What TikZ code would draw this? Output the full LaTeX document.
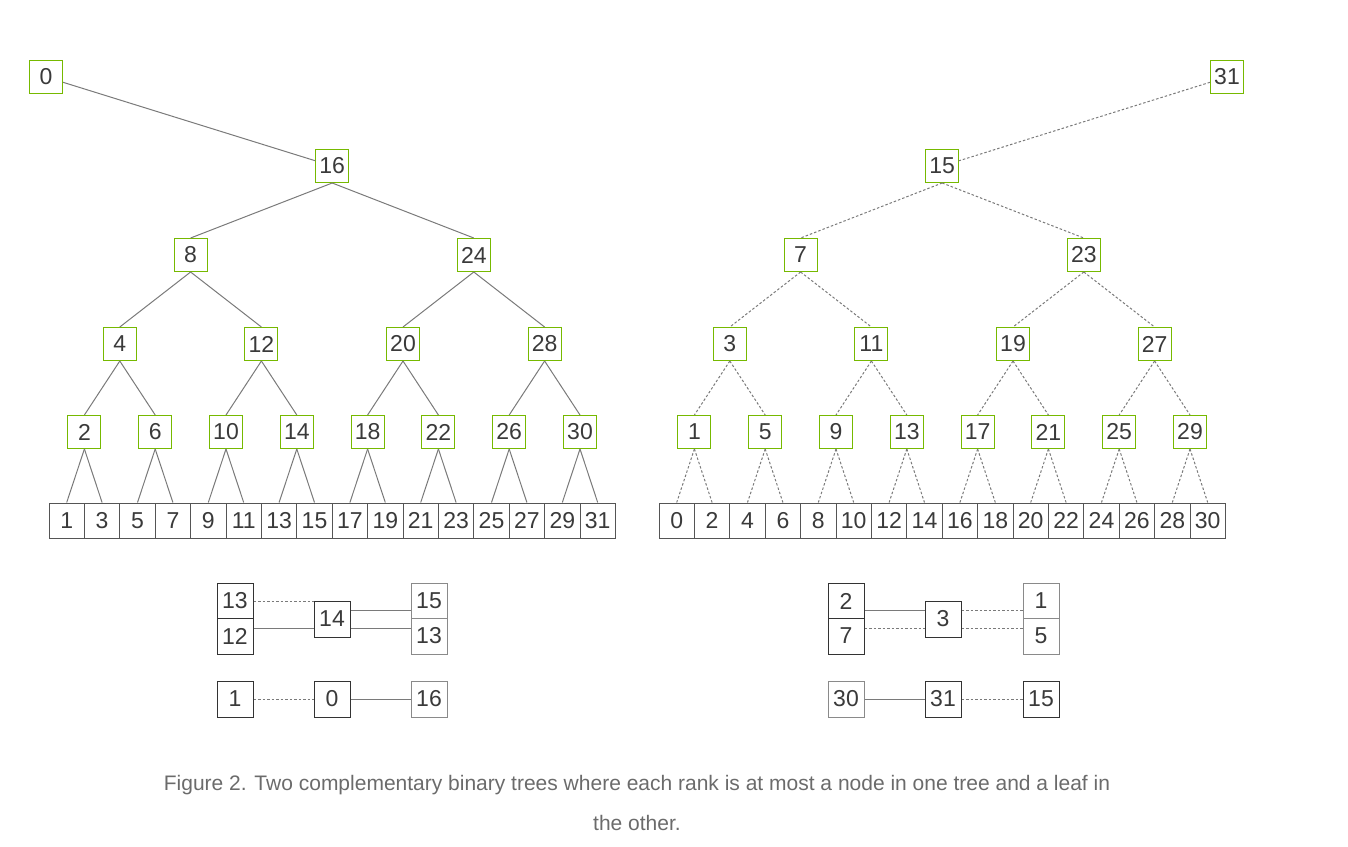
\documentclass[tikz,border=0pt]{standalone}
\usepackage{fontspec}
\setmainfont{Liberation Sans}
\begin{document}
\begin{tikzpicture}[x=1pt,y=-1pt,
  tn/.style={draw=nvg,line width=1pt,minimum width=33pt,minimum height=33pt,inner sep=0pt,text=txt,font=\fontsize{23}{26}\selectfont,fill=white},
  lf/.style={draw=leafc,line width=1pt,minimum width=35.4pt,minimum height=35pt,inner sep=0pt,text=txt,font=\fontsize{23}{26}\selectfont},
  bx/.style={line width=1pt,minimum width=36pt,minimum height=36pt,inner sep=0pt,text=txt,font=\fontsize{23}{26}\selectfont,fill=white},
  dk/.style={bx,draw=darkc},
  lt/.style={bx,draw=lightc},
  ed/.style={draw=edgec,line width=1pt},
  de/.style={draw=edgec,line width=1pt,dash pattern=on 2.5pt off 2pt}]
\definecolor{nvg}{HTML}{76B900}
\definecolor{txt}{HTML}{3A3A3A}
\definecolor{leafc}{HTML}{555555}
\definecolor{edgec}{HTML}{7A7A7A}
\definecolor{darkc}{HTML}{333333}
\definecolor{lightc}{HTML}{8A8A8A}
\definecolor{capc}{HTML}{6B6B6B}
\useasboundingbox (0,0) rectangle (1348,846);
\foreach \side/\off/\d/\sty in {L/49/0/ed,R/659/1/de}{
  % leaves
  \foreach \i in {0,...,15}{
    \pgfmathtruncatemacro{\v}{2*\i+1-\d}
    \node[lf] (\side l\i) at ({\off+35.4*(\i+0.5)},520.5) {\v};
  }
  \foreach \j in {0,...,7}{
    \pgfmathtruncatemacro{\v}{4*\j+2-\d}
    \node[tn] (\side a\j) at ({\off+35.4*(2*\j+1)},432) {\v};
    \pgfmathtruncatemacro{\p}{2*\j}\pgfmathtruncatemacro{\q}{2*\j+1}
    \draw[\sty] (\side a\j.south) -- (\side l\p.north);
    \draw[\sty] (\side a\j.south) -- (\side l\q.north);
  }
  \foreach \j in {0,...,3}{
    \pgfmathtruncatemacro{\v}{8*\j+4-\d}
    \node[tn] (\side b\j) at ({\off+35.4*(4*\j+2)},344) {\v};
    \pgfmathtruncatemacro{\p}{2*\j}\pgfmathtruncatemacro{\q}{2*\j+1}
    \draw[\sty] (\side b\j.south) -- (\side a\p.north);
    \draw[\sty] (\side b\j.south) -- (\side a\q.north);
  }
  \foreach \j in {0,1}{
    \pgfmathtruncatemacro{\v}{16*\j+8-\d}
    \node[tn] (\side c\j) at ({\off+35.4*(8*\j+4)},255) {\v};
    \pgfmathtruncatemacro{\p}{2*\j}\pgfmathtruncatemacro{\q}{2*\j+1}
    \draw[\sty] (\side c\j.south) -- (\side b\p.north);
    \draw[\sty] (\side c\j.south) -- (\side b\q.north);
  }
  \pgfmathtruncatemacro{\v}{16-\d}
  \node[tn] (\side d) at ({\off+35.4*8},166) {\v};
  \draw[\sty] (\side d.south) -- (\side c0.north);
  \draw[\sty] (\side d.south) -- (\side c1.north);
}
\node[tn] (L0) at (46,77) {0};
\node[tn] (R31) at (1227,77) {31};
\draw[ed] (L0) -- (Ld);
\draw[de] (R31) -- (Rd);
% bottom left
\node[dk] (a13) at (235,601) {13};
\node[dk] (a12) at (235,636) {12};
\node[dk] (a14) at (332,619) {14};
\node[lt] (a15) at (429,601) {15};
\node[lt] (a13b) at (429,636) {13};
\draw[de] (a13.east) -- (a13.east -| a14.west);
\draw[ed] ([yshift=-9pt]a14.west -| a12.east) -- ([yshift=-9pt]a14.west);
\draw[ed] ([yshift=9pt]a14.east) -- ([yshift=9pt]a14.east -| a15.west);
\draw[ed] ([yshift=-9pt]a14.east) -- ([yshift=-9pt]a14.east -| a15.west);
\node[dk] (a1) at (235,699) {1};
\node[dk] (a0) at (332,699) {0};
\node[lt] (a16) at (429,699) {16};
\draw[de] (a1) -- (a0);
\draw[ed] (a0) -- (a16);
% bottom right
\node[dk] (b2) at (846,601) {2};
\node[dk] (b7) at (846,636) {7};
\node[dk] (b3) at (943,619) {3};
\node[lt] (b1) at (1041,601) {1};
\node[lt] (b5) at (1041,636) {5};
\draw[ed] ([yshift=9pt]b3.west -| b2.east) -- ([yshift=9pt]b3.west);
\draw[de] ([yshift=-9pt]b3.west -| b2.east) -- ([yshift=-9pt]b3.west);
\draw[de] ([yshift=9pt]b3.east) -- ([yshift=9pt]b3.east -| b1.west);
\draw[de] ([yshift=-9pt]b3.east) -- ([yshift=-9pt]b3.east -| b1.west);
\node[lt] (b30) at (846,699) {30};
\node[dk] (b31) at (943,699) {31};
\node[dk] (b15) at (1041,699) {15};
\draw[ed] (b30) -- (b31);
\draw[de] (b31) -- (b15);
\node[text=capc,font=\fontsize{21}{25}\selectfont] (cap1) at (637,785) {Figure 2. Two complementary binary trees where each rank is at most a node in one tree and a leaf in};
\node[text=capc,font=\fontsize{21}{25}\selectfont] (cap2) at (637,823) {the other.};
\end{tikzpicture}
\end{document}
